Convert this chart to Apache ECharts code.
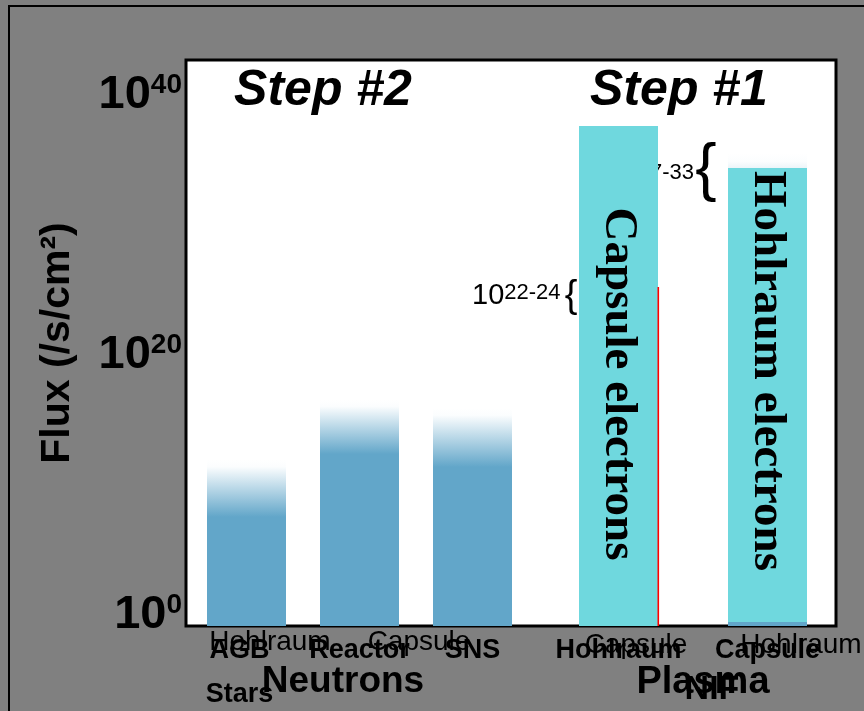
<!DOCTYPE html>
<html><head><meta charset="utf-8">
<script src="https://cdn.jsdelivr.net/npm/echarts@6/dist/echarts.min.js"></script>
<style>html,body{margin:0;padding:0;background:#808080}#c{width:864px;height:711px}</style>
</head><body><div id="c"></div>
<script>
// ---- data (log10 of flux in /s/cm^2) ----
const yTickExponents = [0, 20, 40];
const neutronCategories = ['AGB\nStars', 'Reactor', 'SNS'];
const neutronFlux = [7.85, 14.23, 15.77];
const neutronRangeLow = [7.54, 12.38, 11.38];
const neutronRangeHigh = [11.92, 16.54, 15.9];
const plasmaCategories = ['Hohlraum', 'Capsule'];
const capsuleElectronFlux = [37.62, null];
const hohlraumElectronHigh = [null, 34.38];
const hohlraumElectronLow = [null, -0.54];
const hohlraumBlueFlux = [null, 30];
const hohlraumFadeHigh = [null, 35.54];
const redFlux = [25.23, null];

const Y_MIN = -0.846, Y_MAX = 42.69;
const BLUE = '#62a6c9', CYAN = '#6fd8de';
const SANS = 'Liberation Sans, Arial, sans-serif';
const SERIF = 'Liberation Serif, Times New Roman, serif';
const BW = 79;

const chart = echarts.init(document.getElementById('c'));

function ranges(lows, highs) {
  const out = [];
  lows.forEach((l, i) => { if (l != null && highs[i] != null) out.push([i, l, highs[i]]); });
  return out;
}
const fromBottom = vals => vals.map(v => v == null ? null : Y_MIN);
function rectItem(fill, offX, w) {
  return function (params, api) {
    const i = api.value(0), lo = api.value(1), hi = api.value(2);
    const pt = api.coord([i, hi]), pb = api.coord([i, lo]);
    const ww = w == null ? BW : w;
    const x0 = offX == null ? pt[0] - ww / 2 : pt[0] + offX;
    return { type: 'rect', shape: { x: x0, y: pt[1], width: ww, height: pb[1] - pt[1] }, style: { fill: fill } };
  };
}
const fadeGrad = () => new echarts.graphic.LinearGradient(0, 0, 0, 1, [
  { offset: 0, color: '#ffffff' }, { offset: 0.12, color: '#fbfdfe' }, { offset: 1, color: BLUE }]);

const labelFont = { fontSize: 27, fontWeight: 'bold', color: '#000', fontFamily: SANS, lineHeight: 44 };
const catLabel = Object.assign({}, labelFont, {
  margin: 3, interval: 0,
  formatter: (v) => v.indexOf('\n') >= 0 ? v.split('\n').map(s => '{a|' + s + '}').join('\n') : v,
  rich: { a: Object.assign({}, labelFont, { padding: [0, 14, 0, 0] }) }
});

const option = {
  backgroundColor: '#808080',
  animation: false,
  grid: [
    { left: 186, top: 60, right: 28, bottom: 85, outerBoundsMode: 'none', containLabel: false, show: true, backgroundColor: '#ffffff', borderColor: '#000', borderWidth: 3 },
    { left: 190, top: 60, width: 339, bottom: 85, outerBoundsMode: 'none', containLabel: false },
    { left: 544, top: 60, width: 298, bottom: 85, outerBoundsMode: 'none', containLabel: false }
  ],
  xAxis: [
    { gridIndex: 0, type: 'value', show: false, min: 0, max: 1 },
    { gridIndex: 1, type: 'category', data: neutronCategories, axisLine: { show: false, onZero: false }, axisTick: { show: false }, axisLabel: catLabel },
    { gridIndex: 2, type: 'category', data: plasmaCategories, axisLine: { show: false, onZero: false }, axisTick: { show: false }, axisLabel: catLabel }
  ],
  yAxis: [
    {
      gridIndex: 0, type: 'value', min: Y_MIN, max: Y_MAX,
      axisLine: { show: false }, axisTick: { show: false }, splitLine: { show: false },
      axisLabel: {
        customValues: yTickExponents, margin: 4,
        formatter: v => '{b|10}{s|' + Math.round(v) + '}',
        rich: {
          b: { fontSize: 47, fontWeight: 'bold', color: '#000', fontFamily: SANS },
          s: { fontSize: 28, fontWeight: 'bold', color: '#000', fontFamily: SANS, verticalAlign: 'top' }
        }
      },
      name: 'Flux (/s/cm²)', nameLocation: 'middle', nameGap: 108,
      nameTextStyle: { fontSize: 41, fontWeight: 'bold', color: '#000', fontFamily: SANS }
    },
    { gridIndex: 1, type: 'value', min: Y_MIN, max: Y_MAX, show: false },
    { gridIndex: 2, type: 'value', min: Y_MIN, max: Y_MAX, show: false }
  ],
  series: [
    { name: 'Neutron flux', type: 'custom', xAxisIndex: 1, yAxisIndex: 1, data: ranges(fromBottom(neutronFlux), neutronFlux),
      encode: { x: 0, y: [1, 2] }, renderItem: rectItem(BLUE), z: 2 },
    { name: 'Neutron range', type: 'custom', xAxisIndex: 1, yAxisIndex: 1, data: ranges(neutronRangeLow, neutronRangeHigh),
      encode: { x: 0, y: [1, 2] }, renderItem: rectItem(fadeGrad()), z: 3 },
    { name: 'Hohlraum blue', type: 'custom', xAxisIndex: 2, yAxisIndex: 2, data: ranges(fromBottom(hohlraumBlueFlux), hohlraumBlueFlux),
      encode: { x: 0, y: [1, 2] }, renderItem: rectItem(BLUE), z: 2 },
    { name: 'Hohlraum fade', type: 'custom', xAxisIndex: 2, yAxisIndex: 2, data: ranges(hohlraumBlueFlux, hohlraumFadeHigh),
      encode: { x: 0, y: [1, 2] }, renderItem: rectItem(fadeGrad()), z: 3 },
    { name: 'Capsule electrons', type: 'custom', xAxisIndex: 2, yAxisIndex: 2, data: ranges(fromBottom(capsuleElectronFlux), capsuleElectronFlux),
      encode: { x: 0, y: [1, 2] }, renderItem: rectItem(CYAN), z: 4 },
    { name: 'Hohlraum electrons', type: 'custom', xAxisIndex: 2, yAxisIndex: 2, data: ranges(hohlraumElectronLow, hohlraumElectronHigh),
      encode: { x: 0, y: [1, 2] }, renderItem: rectItem(CYAN), z: 4 },
    { name: 'Red', type: 'custom', xAxisIndex: 2, yAxisIndex: 2, data: ranges(fromBottom(redFlux), redFlux),
      encode: { x: 0, y: [1, 2] }, renderItem: rectItem('#ff0000', BW / 2 - 0.5, 1.6), z: 5 }
  ],
  graphic: [
    { type: 'rect', silent: true, z: 0, shape: { x: 9, y: 6, width: 900, height: 800 }, style: { fill: 'none', stroke: '#000', lineWidth: 2 } },
    { type: 'text', z: 10, x: 323, y: 91, style: { text: 'Step #2', fontSize: 50, fontWeight: 'bold', fontStyle: 'italic', fontFamily: SANS, fill: '#000', align: 'center', verticalAlign: 'middle' } },
    { type: 'text', z: 10, x: 679, y: 91, style: { text: 'Step #1', fontSize: 50, fontWeight: 'bold', fontStyle: 'italic', fontFamily: SANS, fill: '#000', align: 'center', verticalAlign: 'middle' } },
    { type: 'text', z: 10, x: 270, y: 642, style: { text: 'Hohlraum', fontSize: 28, fontFamily: SANS, fill: '#000', align: 'center', verticalAlign: 'middle' } },
    { type: 'text', z: 10, x: 419, y: 642, style: { text: 'Capsule', fontSize: 28, fontFamily: SANS, fill: '#000', align: 'center', verticalAlign: 'middle' } },
    { type: 'text', z: 10, x: 636, y: 645, style: { text: 'Capsule', fontSize: 28, fontFamily: SANS, fill: '#000', align: 'center', verticalAlign: 'middle' } },
    { type: 'text', z: 10, x: 801, y: 645, style: { text: 'Hohlraum', fontSize: 28, fontFamily: SANS, fill: '#000', align: 'center', verticalAlign: 'middle' } },
    { type: 'text', z: 10, x: 343, y: 682, style: { text: 'Neutrons', fontSize: 37, fontWeight: 'bold', fontFamily: SANS, fill: '#000', align: 'center', verticalAlign: 'middle' } },
    { type: 'text', z: 10, x: 703, y: 683, style: { text: 'Plasma', fontSize: 38, fontWeight: 'bold', fontFamily: SANS, fill: '#000', align: 'center', verticalAlign: 'middle' } },
    { type: 'text', z: 10, x: 712, y: 690, style: { text: 'NIF', fontSize: 34, fontWeight: 'bold', fontFamily: SANS, fill: '#000', align: 'center', verticalAlign: 'middle' } },
    { type: 'text', z: 10, x: 472, y: 296, style: { text: '{n|10}{s|22-24}', align: 'left', verticalAlign: 'middle',
      rich: { n: { fontSize: 29, fontFamily: SANS, fill: '#000' }, s: { fontSize: 22, fontFamily: SANS, fill: '#000', verticalAlign: 'top' } } } },
    { type: 'text', z: 10, x: 571, y: 297, style: { text: '{', fontSize: 38, fontFamily: SANS, fill: '#000', align: 'center', verticalAlign: 'middle' } },
    { type: 'text', z: 1, x: 694, y: 176, style: { text: '{n|10}{s|27-33}', align: 'right', verticalAlign: 'middle',
      rich: { n: { fontSize: 29, fontFamily: SANS, fill: '#000' }, s: { fontSize: 22, fontFamily: SANS, fill: '#000', verticalAlign: 'top' } } } },
    { type: 'text', z: 10, x: 706, y: 171, style: { text: '{', fontSize: 64, fontFamily: SANS, fill: '#000', align: 'center', verticalAlign: 'middle' } },
    { type: 'text', z: 10, x: 618, y: 384, rotation: -Math.PI / 2, style: { text: 'Capsule electrons', fontSize: 47, fontWeight: 'bold', fontFamily: SERIF, fill: '#000', align: 'center', verticalAlign: 'middle' } },
    { type: 'text', z: 10, x: 767, y: 371, rotation: -Math.PI / 2, style: { text: 'Hohlraum electrons', fontSize: 47, fontWeight: 'bold', fontFamily: SERIF, fill: '#000', align: 'center', verticalAlign: 'middle' } }
  ]
};
chart.setOption(option);
</script></body></html>
